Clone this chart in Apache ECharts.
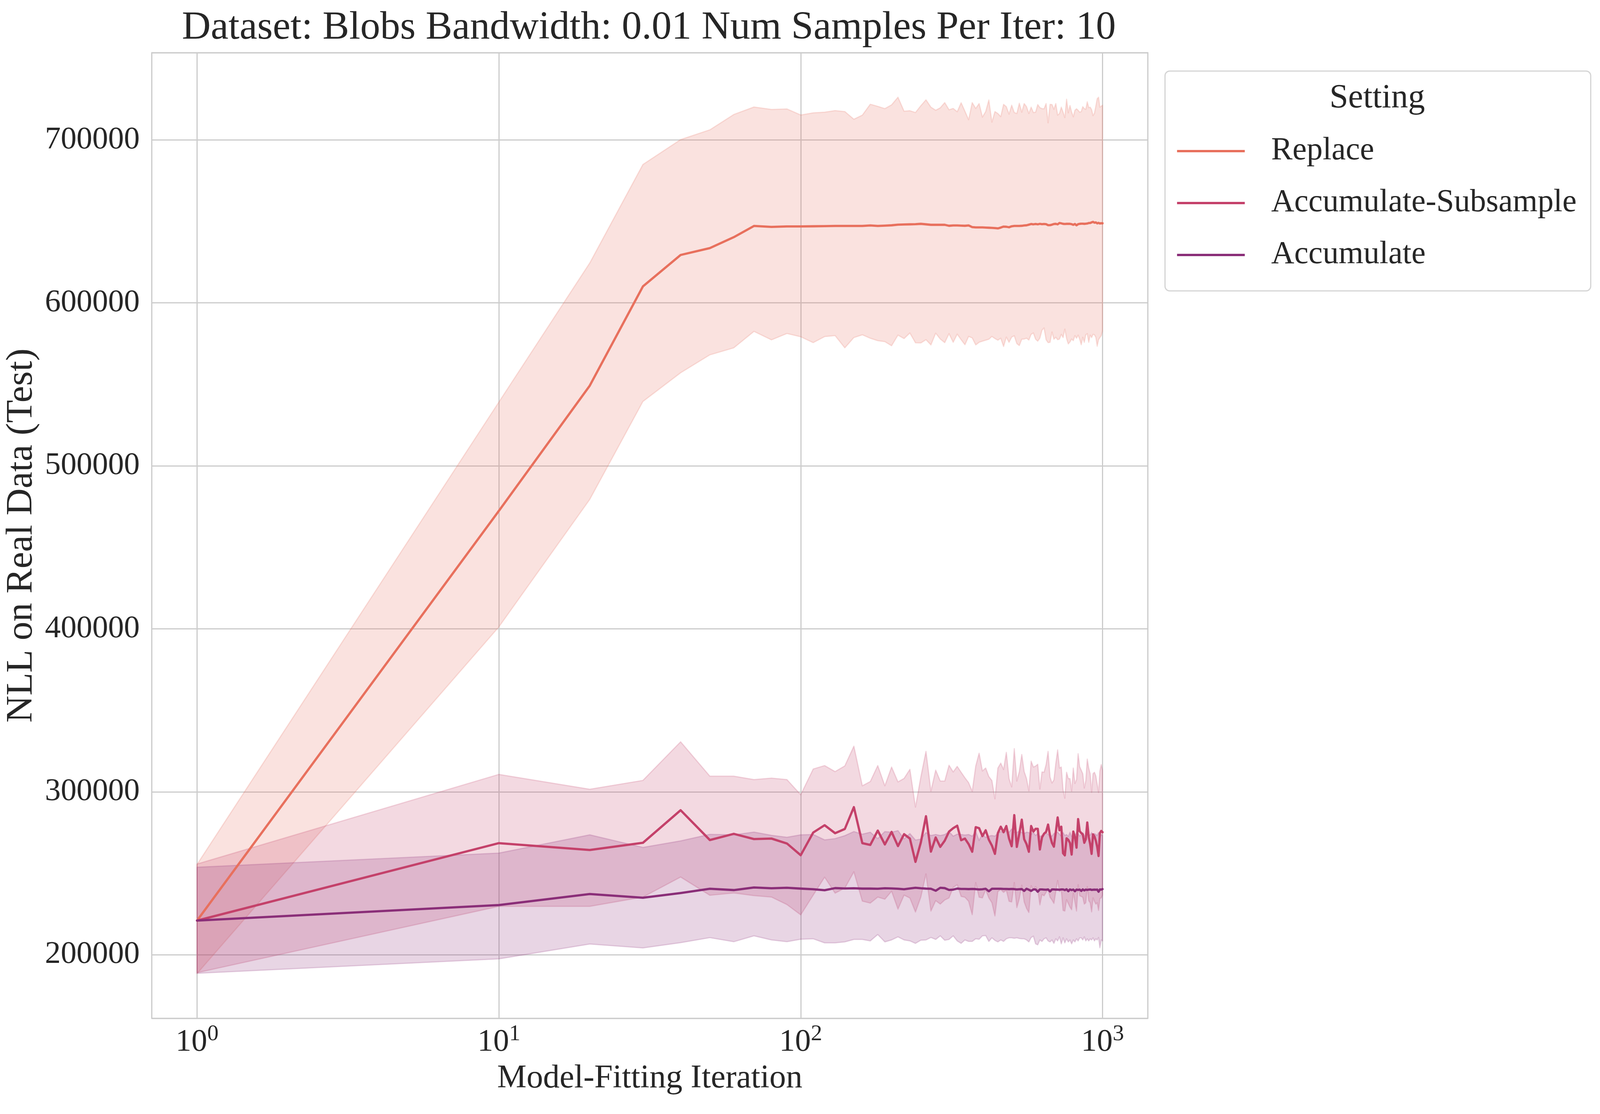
<!DOCTYPE html>
<html>
<head>
<meta charset="utf-8">
<script src="https://cdn.jsdelivr.net/npm/echarts@6/dist/echarts.min.js"></script>
<style>
html, body { margin: 0; padding: 0; background: #ffffff; overflow: hidden; }
#chart { width: 100vw; height: 100vh; }
</style>
</head>
<body>
<div id="chart"></div>
<script>
// ---------------- DATA ----------------
const titleText = 'Dataset: Blobs Bandwidth: 0.01 Num Samples Per Iter: 10';
const seriesNames = ['Replace', 'Accumulate-Subsample', 'Accumulate'];
const seriesColors = ['#e8705d', '#c4416a', '#8a2e78'];
const xTickValues = [1, 10, 100, 1000];

const iterations = [1, 10, 20, 30, 40, 50, 60, 70, 80, 90,
  100, 110, 120, 130, 140, 150, 160, 170, 180, 190,
  200, 210, 220, 230, 240, 250, 260, 270, 280, 290,
  300, 310, 320, 330, 340, 350, 360, 370, 380, 390,
  400, 410, 420, 430, 440, 450, 460, 470, 480, 490,
  500, 510, 520, 530, 540, 550, 560, 570, 580, 590,
  600, 610, 620, 630, 640, 650, 660, 670, 680, 690,
  700, 710, 720, 730, 740, 750, 760, 770, 780, 790,
  800, 810, 820, 830, 840, 850, 860, 870, 880, 890,
  900, 910, 920, 930, 940, 950, 960, 970, 980, 990, 1000];

const replaceMean = [221000, 472400, 549200, 610100, 629400, 633600, 640300, 647200, 646600, 646900,
  646900, 647000, 647100, 647200, 647200, 647200, 647200, 647500, 647200, 647400,
  647600, 648000, 648100, 648200, 648300, 648500, 648200, 647900, 647900, 647900,
  647900, 647300, 647500, 647500, 647400, 647300, 647500, 646500, 646300, 646300,
  646300, 646200, 646100, 646000, 645900, 645700, 646200, 646800, 646700, 646400,
  647000, 647200, 647200, 647200, 647300, 647500, 647600, 648000, 648400, 648200,
  648400, 648200, 648500, 648300, 648400, 648300, 647700, 647700, 648000, 648400,
  648500, 648200, 649000, 648800, 648500, 648400, 648500, 648500, 648500, 648300,
  647900, 648400, 647600, 648300, 648500, 648600, 648600, 648500, 648600, 648700,
  649000, 649000, 649400, 649700, 649200, 649400, 648800, 649100, 648700, 648900, 648800];
const replaceUpper = [255500, 539200, 624500, 684900, 700200, 706200, 715600, 720200, 718700, 719000,
  715300, 716600, 717000, 718000, 717400, 712700, 715200, 721900, 720600, 719200,
  721500, 726200, 717600, 717900, 716800, 721000, 724600, 720100, 718200, 719700,
  722900, 718500, 719300, 717300, 722800, 717600, 712400, 722900, 719300, 722300,
  714000, 717400, 724500, 710900, 717400, 716200, 714300, 721800, 720400, 715800,
  721300, 716800, 716200, 722500, 717000, 722300, 720400, 716200, 720100, 716800,
  717000, 721700, 719800, 719200, 719100, 722300, 710500, 721800, 721700, 718800,
  722300, 715200, 716200, 720100, 717000, 713700, 725000, 716600, 721100, 717000,
  714200, 718200, 719100, 718200, 717000, 717400, 720400, 719200, 718800, 723400,
  719800, 720100, 718600, 714900, 716400, 720700, 725300, 726200, 720100, 720700, 721300];
const replaceLower = [188500, 401200, 479400, 539500, 557100, 568100, 572400, 582500, 577300, 581200,
  579200, 575600, 579300, 579900, 572400, 578700, 580400, 578300, 576800, 576200,
  573700, 580200, 578100, 581500, 575500, 575400, 577400, 574200, 581400, 577800,
  575600, 581100, 575800, 580800, 577400, 574300, 579400, 578500, 574200, 575800,
  576500, 577100, 577700, 579400, 578100, 577100, 578300, 573200, 579000, 575800,
  579000, 579800, 575000, 573800, 577700, 577800, 578300, 577200, 580700, 581500,
  577700, 576500, 578400, 583200, 584600, 577400, 575600, 575800, 582100, 577700,
  578900, 577400, 577800, 580700, 578700, 583900, 578100, 574800, 576000, 577800,
  576800, 579900, 578300, 580200, 577700, 574300, 578900, 575800, 580400, 581100,
  575800, 580200, 578700, 580700, 580400, 578900, 573400, 577400, 578700, 579900, 582800];

const subsampleMean = [221000, 268500, 264300, 268700, 288700, 270400, 274200, 271000, 271300, 268300,
  261100, 275000, 279500, 274600, 277200, 290600, 268500, 267400, 276200, 267700,
  275400, 266700, 274000, 271300, 257000, 268900, 285000, 263300, 272000, 266200,
  270000, 275600, 277700, 279200, 270300, 271300, 267900, 263200, 278300, 277700,
  272800, 276400, 270600, 267000, 261900, 274700, 278600, 275200, 279000, 271300,
  266600, 285700, 266200, 274300, 282900, 270900, 267900, 263200, 279000, 275600,
  277300, 277300, 264600, 272000, 274300, 275400, 279900, 273000, 268600, 266300,
  275200, 284300, 276400, 278600, 262300, 261000, 271500, 270500, 268600, 261500,
  275600, 272200, 265700, 283300, 275800, 274700, 273900, 268700, 270900, 281200,
  272200, 267900, 261900, 273900, 272600, 270000, 266200, 260600, 274700, 276000, 275200];
const subsampleUpper = [255700, 310700, 301600, 307000, 330700, 309600, 309600, 307500, 308400, 307500,
  298200, 314000, 316100, 312400, 315900, 328000, 303700, 306300, 316100, 303700,
  315200, 306100, 308200, 313800, 290600, 309100, 324800, 300400, 313300, 306600,
  306600, 316300, 312200, 315600, 312000, 308600, 305600, 300300, 315800, 323700,
  312800, 314600, 309400, 306900, 295700, 314600, 317600, 313700, 324200, 308100,
  303000, 326500, 306600, 312400, 322900, 312400, 308100, 300600, 318800, 315200,
  315800, 316900, 301700, 312200, 312000, 316700, 324800, 309000, 305400, 307300,
  317400, 325700, 314600, 315200, 301300, 296100, 312000, 308100, 308100, 300400,
  314600, 305100, 307500, 323400, 315400, 313300, 311100, 302300, 306900, 320100,
  314600, 311100, 299700, 311100, 312000, 309800, 304700, 299600, 312800, 316700, 313300];
const subsampleLower = [189000, 229700, 229700, 235400, 247700, 236500, 237900, 236300, 235400, 230800,
  224500, 236600, 247600, 237800, 240900, 250900, 232900, 231700, 235400, 234100,
  239000, 228000, 236600, 234800, 226200, 235400, 249600, 226800, 233200, 231100,
  233600, 234900, 241300, 243000, 235800, 235300, 232800, 224600, 244300, 235300,
  234900, 240000, 234900, 231900, 223800, 238800, 240000, 238300, 239600, 232800,
  232400, 244300, 228900, 234500, 242700, 232400, 228500, 225900, 242400, 239600,
  241800, 240000, 230600, 237000, 236200, 238300, 240000, 235300, 233600, 231500,
  238800, 245600, 238800, 239600, 227200, 226800, 233800, 231500, 229300, 227600,
  237900, 232400, 226800, 243000, 236200, 235800, 235300, 231100, 231900, 241800,
  233200, 231900, 226300, 234900, 232800, 231100, 231900, 227200, 234500, 234900, 236600];

const accumulateMean = [221000, 230500, 237300, 235000, 237900, 240500, 239700, 241300, 240800, 241100,
  240600, 240200, 239600, 240900, 240700, 240800, 240600, 240600, 240500, 240800,
  240700, 240500, 240200, 240700, 241100, 240800, 240600, 240500, 239300, 241100,
  240900, 239800, 240000, 240600, 240400, 240400, 240300, 240400, 240300, 240100,
  240200, 240500, 239000, 240500, 240500, 240500, 240500, 240400, 240400, 240300,
  240400, 240300, 240100, 240200, 240300, 239200, 240500, 239900, 239200, 240100,
  240100, 238700, 240100, 240100, 240000, 239900, 240100, 238900, 240100, 240100,
  240000, 240000, 239900, 240100, 240100, 239700, 240200, 239000, 240100, 239700,
  240000, 239000, 240000, 239800, 240000, 239200, 240100, 239500, 240000, 239800,
  240000, 240100, 239800, 239900, 240000, 239900, 240000, 238700, 240100, 240000, 240300];
const accumulateUpper = [253700, 262400, 273600, 265900, 269900, 273900, 273600, 275300, 273300, 272100,
  273600, 273800, 270500, 271300, 273100, 275600, 274000, 275200, 271300, 275600,
  275200, 276200, 271100, 274400, 270400, 271000, 275000, 273200, 273800, 273200,
  273800, 275600, 272800, 274000, 273800, 273500, 273800, 272800, 275600, 270100,
  274400, 272000, 272800, 273200, 272800, 274700, 275600, 275000, 276200, 275200,
  277200, 275200, 275000, 276000, 275000, 274400, 275200, 275000, 273800, 275000,
  273200, 274400, 272600, 273200, 273800, 275000, 273800, 273500, 272800, 274400,
  275000, 275200, 274000, 272800, 275000, 273200, 273800, 272600, 275200, 272600,
  274400, 273200, 275000, 274400, 272800, 273800, 275000, 273200, 272600, 275000,
  273200, 273500, 275000, 272800, 274400, 273800, 273200, 275000, 272300, 273800, 273200];
const accumulateLower = [188600, 197500, 206600, 204200, 207400, 210500, 208000, 211600, 209100, 208000,
  209500, 209800, 207300, 207300, 207900, 209400, 209400, 208500, 212400, 207900,
  209100, 211000, 209100, 208500, 207000, 208900, 209100, 210600, 209400, 211600,
  208900, 209400, 211600, 208500, 207000, 209100, 208200, 208200, 209800, 209500,
  211600, 211800, 208200, 210400, 208800, 207900, 209100, 208200, 209800, 210400,
  210400, 210100, 210400, 210000, 209800, 209800, 209100, 207900, 210600, 211400,
  206700, 206100, 209100, 208200, 209800, 210400, 208500, 207900, 209100, 207000,
  209800, 208500, 211000, 206700, 210400, 207300, 209800, 207900, 209100, 206700,
  209100, 207900, 209800, 208500, 210400, 210400, 209100, 211000, 208500, 209800,
  208500, 209800, 209100, 210400, 208500, 209800, 209100, 210600, 204300, 209100, 208500];

// ---------------- CHART ----------------
const FONT = 'Liberation Serif';
const TEXT = '#262626';
const GRIDC = '#cccccc';
const W = window.innerWidth, H = window.innerHeight;
const SX = W / 4653, SY = H / 2853;
function px(v) { return v * SX; }
function py(v) { return v * SY; }

function hexA(hex, a) {
  const r = parseInt(hex.slice(1, 3), 16), g = parseInt(hex.slice(3, 5), 16), b = parseInt(hex.slice(5, 7), 16);
  return 'rgba(' + r + ',' + g + ',' + b + ',' + a + ')';
}
function pairs(ys) { return iterations.map((x, i) => [x, ys[i]]); }

function lineSeries(idx, mean) {
  return {
    type: 'line', name: seriesNames[idx], data: pairs(mean),
    showSymbol: false, symbol: 'none', z: 2,
    lineStyle: { width: py(5.8), color: seriesColors[idx], join: 'round', cap: 'round' },
    itemStyle: { color: seriesColors[idx] },
    emphasis: { disabled: true }
  };
}
function bandSeries(idx, lower, upper) {
  const color = seriesColors[idx];
  return {
    type: 'custom', name: seriesNames[idx] + ' CI', silent: true, z: 2,
    data: [[iterations[0], lower[0]]],
    encode: { x: 0, y: 1 },
    renderItem: function (params, api) {
      const pts = [];
      for (let i = 0; i < iterations.length; i++) pts.push(api.coord([iterations[i], upper[i]]));
      for (let i = iterations.length - 1; i >= 0; i--) pts.push(api.coord([iterations[i], lower[i]]));
      return {
        type: 'polygon', shape: { points: pts },
        style: { fill: hexA(color, 0.2), stroke: hexA(color, 0.2), lineWidth: py(3), lineJoin: 'round' }
      };
    }
  };
}

const chart = echarts.init(document.getElementById('chart'), null, { renderer: 'canvas', width: W, height: H });
const option = {
  animation: false,
  backgroundColor: '#ffffff',
  textStyle: { fontFamily: FONT },
  grid: { left: px(436), width: px(2902), top: py(135), height: py(2473), show: true, borderColor: GRIDC, borderWidth: py(3), backgroundColor: 'transparent' },
  xAxis: {
    type: 'log', logBase: 10, min: 0.70795, max: 1412.54,
    name: 'Model-Fitting Iteration', nameLocation: 'middle', nameGap: py(112),
    nameTextStyle: { fontFamily: FONT, fontSize: px(96), color: TEXT },
    axisLine: { show: false }, axisTick: { show: false },
    splitLine: { show: true, lineStyle: { color: GRIDC, width: py(3) } },
    axisLabel: {
      showMinLabel: false, showMaxLabel: false, margin: py(12),
      formatter: function (v) {
        const e = Math.round(Math.log10(v));
        if (xTickValues.indexOf(Math.round(v)) < 0) return '';
        return '{b|10}{s|' + e + '}';
      },
      rich: {
        b: { fontFamily: FONT, fontSize: px(92), color: TEXT, lineHeight: py(100) },
        s: { fontFamily: FONT, fontSize: px(66), color: TEXT, lineHeight: py(50), verticalAlign: 'top' }
      }
    }
  },
  yAxis: {
    type: 'value', min: 161000, max: 753500,
    name: 'NLL on Real Data (Test)', nameLocation: 'middle', nameGap: px(318),
    nameTextStyle: { fontFamily: FONT, fontSize: py(96), color: TEXT },
    axisLine: { show: false }, axisTick: { show: false },
    splitLine: { show: true, lineStyle: { color: GRIDC, width: py(3) } },
    axisLabel: {
      showMinLabel: false, showMaxLabel: false, margin: px(35),
      fontFamily: FONT, fontSize: px(92), color: TEXT,
      formatter: function (v) { return String(v); }
    }
  },
  legend: {
    orient: 'vertical', left: px(3388), top: py(182),
    padding: [py(155), px(41), py(42), px(35)],
    itemGap: py(33), itemWidth: px(197), itemHeight: py(6),
    icon: 'rect',
    backgroundColor: '#ffffff', borderColor: '#d4d4d4', borderWidth: py(3), borderRadius: py(12),
    textStyle: { fontFamily: FONT, fontSize: px(93), color: TEXT, lineHeight: py(100), padding: [0, 0, 0, px(71)] },
    data: seriesNames,
    selectedMode: false
  },
  graphic: [
    { type: 'text', x: px(1887), y: py(72), z: 100,
      style: { text: titleText, fontFamily: FONT, fontSize: px(116), fill: TEXT, align: 'center', verticalAlign: 'middle' } },
    { type: 'text', x: px(4005), y: py(252), z: 100,
      style: { text: 'Setting', fontFamily: FONT, fontSize: px(98), fill: TEXT, align: 'center', verticalAlign: 'middle' } }
  ],
  series: [
    lineSeries(0, replaceMean), bandSeries(0, replaceLower, replaceUpper),
    lineSeries(1, subsampleMean), bandSeries(1, subsampleLower, subsampleUpper),
    lineSeries(2, accumulateMean), bandSeries(2, accumulateLower, accumulateUpper)
  ]
};
chart.setOption(option);
</script>
</body>
</html>
